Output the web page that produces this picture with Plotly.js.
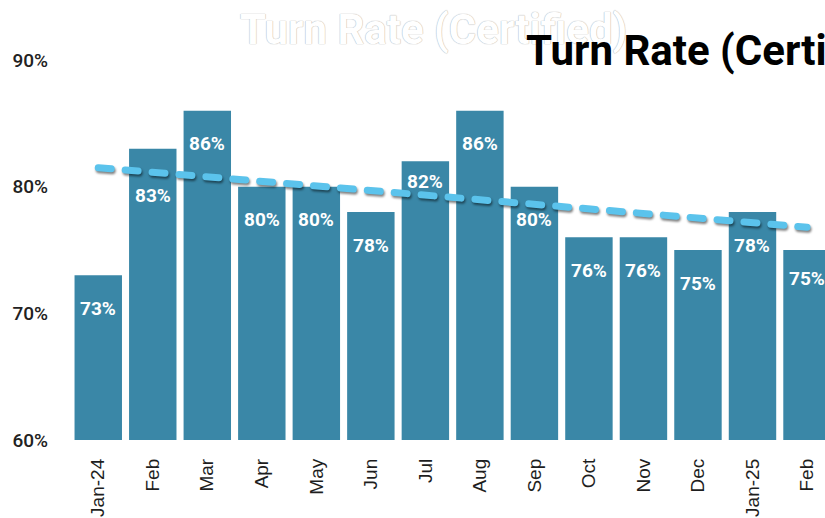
<!DOCTYPE html>
<html>
<head>
<meta charset="utf-8">
<script src="https://cdn.plot.ly/plotly-3.0.1.min.js"></script>
<style>
  html, body { margin: 0; padding: 0; background: #ffffff; }
  #chart { width: 825px; height: 518px; }
  .scatterlayer path.js-line {
    stroke-linecap: round;
    filter: drop-shadow(1px 2px 1px rgba(0,0,0,0.5));
  }
</style>
</head>
<body>
<div id="chart"></div>
<script>
// ---- data ----
const months = ["Jan-24","Feb","Mar","Apr","May","Jun","Jul","Aug","Sep","Oct","Nov","Dec","Jan-25","Feb"];
const turnRate = [73, 83, 86, 80, 80, 78, 82, 86, 80, 76, 76, 75, 78, 75];
const trendIndex = [0, 13];          // trend line runs from Jan-24 to the last Feb
const trendValues = [81.5, 76.8];
const yTicks = [60, 70, 80, 90];
const chartTitle = "Turn Rate (Certified)";

// ---- build ----
const xIdx = months.map((m, i) => i);
const barColor = "#3A87A7";

// label placement (pixels below the bar top); a few labels were nudged in the
// original so they clear the trend line
const labelOffset = 33;
const labelNudge = { 1: 14, 6: -13, 13: -5 };

const bars = {
  type: "bar",
  x: xIdx,
  y: turnRate,
  marker: { color: barColor, line: { width: 0 } },
  hoverinfo: "skip",
  showlegend: false
};

const trend = {
  type: "scatter",
  mode: "lines",
  x: trendIndex,
  y: trendValues,
  line: { color: "#5BC3EC", width: 7, dash: "13px,14px" },
  hoverinfo: "skip",
  showlegend: false
};

const labelAnnotations = turnRate.map((v, i) => ({
  x: i, y: v, xref: "x", yref: "y",
  text: v + "%",
  showarrow: false,
  xanchor: "center", yanchor: "middle",
  yshift: -(labelOffset + (labelNudge[i] || 0)),
  font: { family: "Roboto", size: 19, color: "#ffffff", weight: 700 }
}));

const layout = {
  width: 825,
  height: 518,
  margin: { l: 71, r: 0, t: 60, b: 78, pad: 0 },
  paper_bgcolor: "#ffffff",
  plot_bgcolor: "#ffffff",
  bargap: 0.13,
  showlegend: false,
  xaxis: {
    range: [-0.5, 13.33],
    tickmode: "array",
    tickvals: xIdx,
    ticktext: months,
    tickangle: -90,
    ticks: "",
    ticklabelstandoff: 14,
    showgrid: false,
    zeroline: false,
    showline: false,
    tickfont: { family: "Liberation Sans, Arial, sans-serif", size: 19, color: "#1e1e1e" },
    fixedrange: true
  },
  yaxis: {
    range: [60, 90],
    tickmode: "array",
    tickvals: yTicks,
    ticktext: yTicks.map(v => v + "%"),
    ticks: "",
    ticklabelstandoff: 22,
    showgrid: false,
    zeroline: false,
    showline: false,
    tickfont: { family: "Roboto", size: 19, color: "#222222", weight: 500 },
    fixedrange: true
  },
  annotations: [
    {
      text: chartTitle,
      xref: "paper", yref: "paper",
      x: 0.481, y: 1.08,
      xanchor: "center", yanchor: "middle",
      showarrow: false,
      font: { family: "Roboto", size: 42, color: "#ffffff", weight: 700,
              shadow: "0 0 1px #b4b4b4, 0 0 1px #b4b4b4" }
    },
    {
      text: chartTitle,
      xref: "paper", yref: "paper",
      x: 0.601, y: 1.024,
      xanchor: "left", yanchor: "middle",
      showarrow: false,
      font: { family: "Roboto", size: 42, color: "#000000", weight: 700 }
    }
  ].concat(labelAnnotations)
};

Plotly.newPlot("chart", [bars, trend], layout, { staticPlot: true, displayModeBar: false });
</script>
</body>
</html>
